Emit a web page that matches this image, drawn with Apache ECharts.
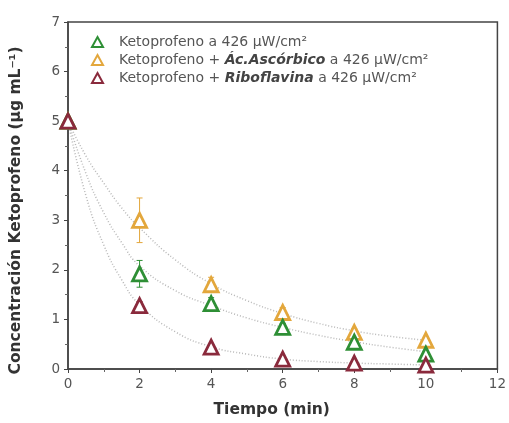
<!DOCTYPE html>
<html><head><meta charset="utf-8">
<script src="https://cdn.jsdelivr.net/npm/echarts@6/dist/echarts.min.js"></script>
<style>html,body{margin:0;padding:0;background:#fff}#c{width:509px;height:423px}</style>
</head><body><div id="c"></div>
<script>
var times = [0, 2, 4, 6, 8, 10];
var keto = [5.0, 1.92, 1.32, 0.84, 0.54, 0.30];
var ketoErr = [0.05, 0.27, 0.12, 0.08, 0.06, 0.05];
var asc = [5.0, 3.0, 1.70, 1.14, 0.74, 0.58];
var ascErr = [0.05, 0.45, 0.15, 0.10, 0.07, 0.06];
var ribo = [5.0, 1.28, 0.44, 0.20, 0.12, 0.08];
var riboErr = [0.05, 0.08, 0.05, 0.04, 0.03, 0.03];

var fitTimes = [0, 0.5, 1, 1.5, 2, 3, 4, 5, 6, 7, 8, 9, 10];
var ketoFit = [5.0, 3.95, 3.15, 2.55, 2.08, 1.58, 1.28, 1.03, 0.84, 0.68, 0.55, 0.44, 0.35];
var ascFit = [5.0, 4.3, 3.75, 3.25, 2.85, 2.2, 1.72, 1.38, 1.12, 0.92, 0.77, 0.66, 0.58];
var riboFit = [5.0, 3.5, 2.5, 1.8, 1.3, 0.75, 0.45, 0.3, 0.2, 0.15, 0.12, 0.1, 0.08];

var names = ['Ketoprofeno a 426 μW/cm²', 'Ketoprofeno + Ác.Ascórbico a 426 μW/cm²', 'Ketoprofeno + Riboflavina a 426 μW/cm²'];
var colors = ['#2e8f35', '#e3a73c', '#8a2a3c'];
var FONT = 'DejaVu Sans, sans-serif';

function pairs(xs, ys) { return xs.map(function (x, i) { return [x, ys[i]]; }); }
function errData(xs, ys, es) { return xs.map(function (x, i) { return [x, ys[i] - es[i], ys[i] + es[i]]; }); }

function errSeries(data, color) {
  return {
    type: 'custom', silent: true, z: 3,
    renderItem: function (params, api) {
      var x = api.value(0);
      var lo = api.coord([x, api.value(1)]);
      var hi = api.coord([x, api.value(2)]);
      var w = 3;
      return { type: 'group', children: [
        { type: 'line', shape: { x1: lo[0], y1: lo[1], x2: hi[0], y2: hi[1] }, style: { stroke: color, lineWidth: 1 } },
        { type: 'line', shape: { x1: lo[0] - w, y1: lo[1], x2: lo[0] + w, y2: lo[1] }, style: { stroke: color, lineWidth: 1 } },
        { type: 'line', shape: { x1: hi[0] - w, y1: hi[1], x2: hi[0] + w, y2: hi[1] }, style: { stroke: color, lineWidth: 1 } }
      ] };
    },
    encode: { x: 0, y: [1, 2] },
    data: data
  };
}
function fitSeries(ys) {
  return { type: 'line', smooth: true, showSymbol: false, silent: true, z: 1,
    lineStyle: { color: '#b8b8b8', width: 1.5, type: [1, 2] }, data: pairs(fitTimes, ys) };
}
function scatterSeries(name, ys, color) {
  return { name: name, type: 'scatter', symbol: 'triangle', symbolSize: 14, z: 5,
    itemStyle: { color: '#fff', borderColor: color, borderWidth: 2.8, opacity: 1 },
    data: pairs(times, ys) };
}

var chart = echarts.init(document.getElementById('c'));
chart.setOption({
  animation: false,
  grid: { left: 68, right: 11, top: 22, bottom: 51, show: true, borderColor: '#444', borderWidth: 1.5, backgroundColor: 'transparent' },
  legend: {
    data: names, orient: 'vertical', left: 86, top: 30, itemGap: 4, itemWidth: 11, itemHeight: 10,
    textStyle: { fontFamily: FONT, fontSize: 14, color: '#555', padding: [0, 0, 0, 11],
      rich: { a: { fontFamily: FONT, fontSize: 14, color: '#555' },
              b: { fontFamily: FONT, fontSize: 14, color: '#444', fontWeight: 'bold', fontStyle: 'italic' } } },
    formatter: function (n) {
      if (n === names[1]) return '{a|Ketoprofeno + }{b|Ác.Ascórbico}{a| a 426 μW/cm²}';
      if (n === names[2]) return '{a|Ketoprofeno + }{b|Riboflavina}{a| a 426 μW/cm²}';
      return '{a|' + n + '}';
    }
  },
  xAxis: {
    type: 'value', min: 0, max: 12, interval: 2,
    name: 'Tiempo (min)', nameLocation: 'middle', nameGap: 33,
    nameTextStyle: { fontFamily: FONT, fontWeight: 'bold', fontSize: 15.5, color: '#333', padding: [0, 22, 0, 0] },
    axisLine: { lineStyle: { color: '#444', width: 1.5 } },
    axisTick: { inside: false, length: 4, lineStyle: { color: '#444' } },
    minorTick: { show: true, splitNumber: 2, length: 3, lineStyle: { color: '#666' } },
    axisLabel: { fontFamily: FONT, fontSize: 13.5, color: '#555', margin: 8 },
    splitLine: { show: false }
  },
  yAxis: {
    type: 'value', min: 0, max: 7, interval: 1,
    name: 'Concentración Ketoprofeno (μg mL⁻¹)', nameLocation: 'middle', nameGap: 44, nameRotate: 90,
    nameTextStyle: { fontFamily: FONT, fontWeight: 'bold', fontSize: 15.5, color: '#333', padding: [0, 30, 0, 0] },
    axisLine: { lineStyle: { color: '#444', width: 1.5 } },
    axisTick: { inside: false, length: 4, lineStyle: { color: '#444' } },
    minorTick: { show: true, splitNumber: 2, length: 3, lineStyle: { color: '#666' } },
    axisLabel: { fontFamily: FONT, fontSize: 13.5, color: '#555', margin: 8 },
    splitLine: { show: false }
  },
  series: [
    fitSeries(ascFit), fitSeries(ketoFit), fitSeries(riboFit),
    errSeries(errData(times, asc, ascErr), colors[1]),
    errSeries(errData(times, keto, ketoErr), colors[0]),
    errSeries(errData(times, ribo, riboErr), colors[2]),
    scatterSeries(names[1], asc, colors[1]),
    scatterSeries(names[0], keto, colors[0]),
    scatterSeries(names[2], ribo, colors[2])
  ]
});
</script></body></html>
